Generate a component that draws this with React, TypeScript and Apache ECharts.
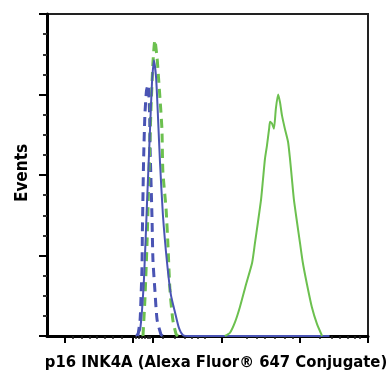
import React, { useEffect, useRef } from "react";
import * as echarts from "echarts";

// x in display channels (0–1000), y in event units (0–4)
const blueSolid: [number, number][] = [
  [277, 0], [290, 0.075], [302, 0.7], [312, 1.7], [321, 2.575], [327, 3.14], [333, 3.425],
  [340, 3.2], [346, 2.7], [352, 2.16], [361, 1.51], [374, 0.91], [386, 0.51], [399, 0.29],
  [411, 0.1], [424, 0.01], [445, 0], [600, 0], [750, 0], [880, 0],
];
const blueDashed: [number, number][] = [
  [283, 0], [290, 0.2], [293, 0.5], [296, 0.85], [297, 1.25], [299, 1.75], [301, 2.2],
  [305, 2.75], [310, 3.05], [315, 3.12], [318, 2.95], [320, 2.7], [321, 2.36], [327, 1.49],
  [330, 0.95], [336, 0.575], [343, 0.2], [355, 0.02], [361, 0],
];
const greenDashed: [number, number][] = [
  [299, 0], [305, 0.45], [312, 1.2], [318, 2.075], [324, 2.825], [330, 3.39], [336, 3.675],
  [343, 3.45], [346, 3.29], [352, 2.95], [358, 2.575], [361, 2.04], [371, 1.575], [377, 1.11],
  [383, 0.575], [392, 0.2], [402, 0.025], [408, 0],
];
const greenSolid: [number, number][] = [
  [554, 0], [570, 0.04], [586, 0.175], [601, 0.36], [620, 0.64], [639, 0.91], [648, 1.16],
  [657, 1.41], [667, 1.7], [673, 1.95], [679, 2.2], [685, 2.36], [692, 2.575], [695, 2.66],
  [701, 2.64], [707, 2.575], [713, 2.825], [720, 3.0], [726, 2.9], [732, 2.74], [741, 2.575],
  [751, 2.41], [757, 2.2], [763, 1.95], [769, 1.7], [779, 1.41], [788, 1.16], [797, 0.91],
  [810, 0.64], [825, 0.36], [841, 0.15], [857, 0],
];

const xMajorTicks = [56, 268, 330, 545, 788, 1000];
const xMinorTicks = [
  81, 109, 134, 156, 181, 206, 234,
  277, 287, 296, 305, 315, 321,
  361, 399, 430, 452, 470, 492,
  623, 654, 679, 710, 741, 766,
  850, 888, 913, 938, 959, 975,
];

const xTitle = "p16 INK4A (Alexa Fluor® 647 Conjugate)";
const yTitle = "Events";

const BLUE = "#4a54b4";
const GREEN = "#6cc04f";
const FONT = "'Liberation Sans Narrow', 'DejaVu Sans Condensed', 'Liberation Sans', sans-serif";

export default function App() {
  const ref = useRef<HTMLDivElement>(null);
  useEffect(() => {
    if (!ref.current) return;
    const chart = echarts.init(ref.current, null, { renderer: "svg" });
    const baseX = {
      type: "value" as const,
      min: 0,
      max: 1000,
      position: "bottom" as const,
      splitLine: { show: false },
      axisLabel: { show: false },
    };
    chart.setOption({
      animation: false,
      grid: {
        left: 47, top: 14, right: 23, bottom: 37,
        show: true, borderColor: "#222", borderWidth: 2, backgroundColor: "transparent",
      },
      xAxis: [
        {
          ...baseX,
          axisLine: { show: true, lineStyle: { color: "#000", width: 3 } },
          axisTick: { show: true, length: 7, lineStyle: { color: "#000", width: 2 }, customValues: xMajorTicks },
        },
        {
          ...baseX,
          axisLine: { show: false },
          axisTick: { show: true, length: 3, lineStyle: { color: "#222", width: 1.5 }, customValues: xMinorTicks },
        },
      ],
      yAxis: {
        type: "value",
        min: 0,
        max: 4,
        interval: 1,
        axisLine: { show: true, lineStyle: { color: "#000", width: 3 } },
        axisTick: { show: true, length: 8, lineStyle: { color: "#000", width: 2 } },
        minorTick: { show: true, splitNumber: 4, length: 4, lineStyle: { color: "#333", width: 2 } },
        axisLabel: { show: false },
        splitLine: { show: false },
      },
      series: [
        {
          type: "line", data: blueDashed, showSymbol: false, smooth: 0.2,
          lineStyle: { color: BLUE, width: 3, type: [9, 6] }, z: 2,
        },
        {
          type: "line", data: greenDashed, showSymbol: false, smooth: 0.2,
          lineStyle: { color: GREEN, width: 3, type: [9, 6] }, z: 3,
        },
        {
          type: "line", data: blueSolid, showSymbol: false, smooth: 0.2,
          lineStyle: { color: BLUE, width: 2 }, z: 4,
        },
        {
          type: "line", data: greenSolid, showSymbol: false, smooth: 0.2,
          lineStyle: { color: GREEN, width: 2 }, z: 4,
        },
      ],
      graphic: [
        {
          type: "text", x: 216, y: 361,
          style: { text: xTitle, font: `bold 16.5px ${FONT}`, fill: "#000", align: "center", verticalAlign: "middle" },
        },
        {
          type: "text", x: 21, y: 173, rotation: Math.PI / 2,
          style: { text: yTitle, font: `bold 17px ${FONT}`, fill: "#000", align: "center", verticalAlign: "middle" },
        },
      ],
    });
    return () => chart.dispose();
  }, []);
  return <div ref={ref} style={{ position: "fixed", left: 0, top: 0, width: 391, height: 373 }} />;
}
